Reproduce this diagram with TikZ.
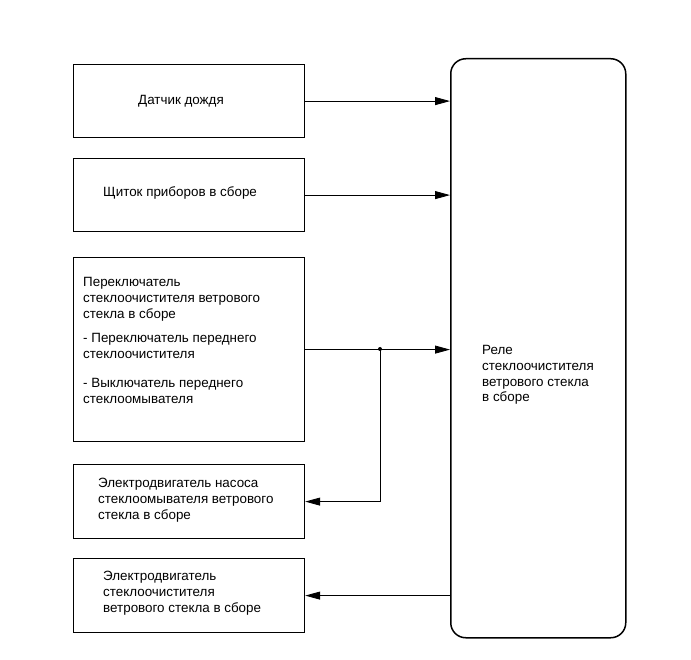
\documentclass[tikz,border=0pt]{standalone}
\usepackage{fontspec}
\setmainfont{Liberation Sans}
\usetikzlibrary{arrows.meta}

\tikzset{
  unitbox/.style={draw, line width=1.2pt, minimum width=231pt, anchor=north west, inner sep=0pt},
  relaybox/.style={draw, line width=1.5pt, rounded corners=15pt, minimum width=175pt, minimum height=579pt, anchor=north west, inner sep=0pt},
  label/.style={anchor=north west, inner sep=0pt, align=left, font=\fontsize{13.4}{15.8}\selectfont},
  wire/.style={line width=0.8pt, -{Triangle[length=15pt,width=8pt]}},
}

\begin{document}
\begin{tikzpicture}[x=1pt, y=-1pt]
    \useasboundingbox (0,0) rectangle (691,660);

    % --- Left column: sensors, switches and motors ---
    \node[unitbox, minimum height=73pt] (rain) at (73,64) {};
    \node[unitbox, minimum height=73pt] (cluster) at (73,158) {};
    \node[unitbox, minimum height=184pt] (switch) at (73,257) {};
    \node[unitbox, minimum height=74pt] (pump) at (73,464) {};
    \node[unitbox, minimum height=74pt] (motor) at (73,558) {};

    % --- Right column: relay ---
    \node[relaybox] (relay) at (450,58) {};

    % Texts
    \node[label] (rainT) at (138,95) {Датчик дождя};
    \node[label] (clusterT) at (103,186) {Щиток приборов в сборе};
    \node[label] (switchT) at (83,277) {Переключатель\\стеклоочистителя ветрового\\стекла в сборе};
    \node[label] (switchA) at (83,333) {- Переключатель переднего\\стеклоочистителя};
    \node[label] (switchB) at (83,378) {- Выключатель переднего\\стеклоомывателя};
    \node[label] (pumpT) at (98,478) {Электродвигатель насоса\\стеклоомывателя ветрового\\стекла в сборе};
    \node[label] (motorT) at (103,571) {Электродвигатель\\стеклоочистителя\\ветрового стекла в сборе};
    \node[label] (relayT) at (482,345) {Реле\\стеклоочистителя\\ветрового стекла\\в сборе};

    % --- Connectors ---
    \draw[wire] (rain.east) -- (rain.east -| relay.west);
    \draw[wire] (cluster.east) -- (cluster.east -| relay.west);
    \draw[wire] (switch.east) -- (switch.east -| relay.west);
    \coordinate (split) at (380,349);
    \fill (split) circle (2pt);
    \draw[wire] (split) |- (pump.east);
    \draw[wire] (motor.east -| relay.west) -- (motor.east);
\end{tikzpicture}
\end{document}
